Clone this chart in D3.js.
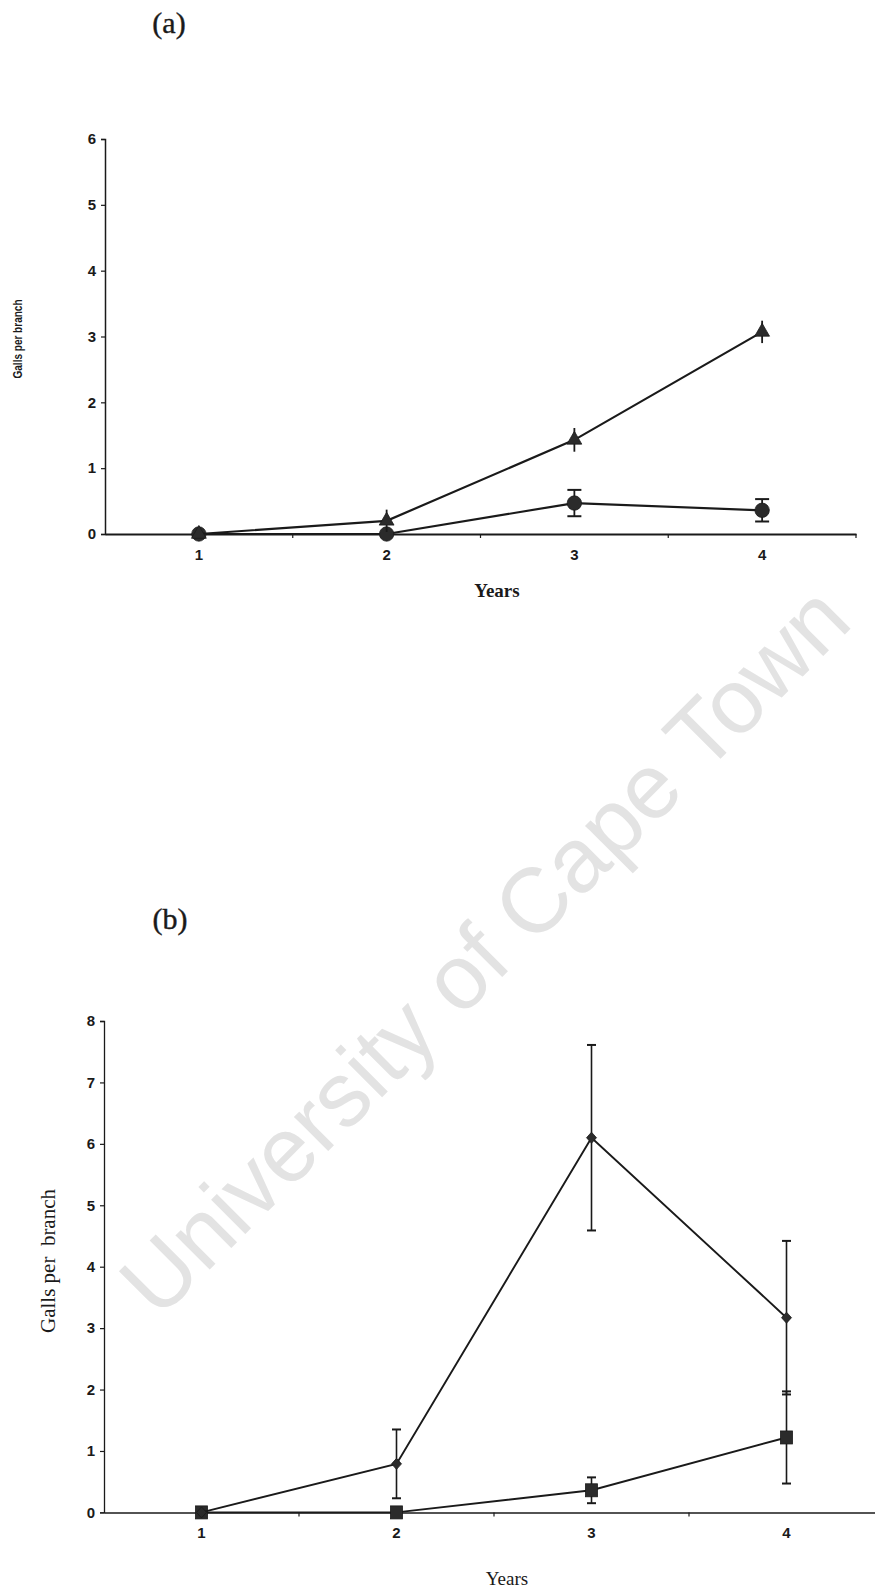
<!DOCTYPE html>
<html>
<head>
<meta charset="utf-8">
<script src="https://cdn.jsdelivr.net/npm/d3@7"></script>
<style>
  body { margin: 0; background: #fff; }
  svg { display: block; }
</style>
</head>
<body>
<svg id="fig" width="875" height="1592"></svg>
<script>
// Survey years (x categories)
const years = [1, 2, 3, 4];

// Panel (a): galls per branch, mean and error
const aTriangle    = [0, 0.20, 1.43, 3.07];
const aTriangleErr = [0, 0.17, 0.18, 0.17];
const aCircle      = [0, 0, 0.47, 0.36];
const aCircleErr   = [0, 0, 0.20, 0.17];
const aYTicks      = [0, 1, 2, 3, 4, 5, 6];

// Panel (b): galls per branch, mean and error
const bDiamond     = [0, 0.79, 6.10, 3.17];
const bDiamondErr  = [0, 0.56, 1.51, 1.25];
const bSquare      = [0, 0, 0.36, 1.22];
const bSquareErr   = [0, 0, 0.21, 0.75];
const bYTicks      = [0, 1, 2, 3, 4, 5, 6, 7, 8];

const svg = d3.select("#fig");
const INK = "#1a1a1a";
const MARK = "#2b2b2b";
const SANS = "'Liberation Sans', Arial, Helvetica, sans-serif";
const SERIF = "'Liberation Serif', 'Times New Roman', serif";

// Watermark across the sheet, underneath the plots
svg.append("text")
  .attr("transform", "translate(484,950) rotate(-45)")
  .attr("text-anchor", "middle")
  .attr("dominant-baseline", "central")
  .attr("font-family", SANS)
  .attr("font-size", 91.5)
  .attr("fill", "#e3e3e3")
  .text("University of Cape Town");

// Marker shapes
const shapes = {
  triangle: (g) => g.append("path").attr("d", d3.symbol(d3.symbolTriangle, 95)()),
  circle:   (g) => g.append("circle").attr("r", 7.2),
  diamond:  (g) => g.append("path").attr("d", "M0,-5.5L5,0L0,5.5L-5,0Z"),
  square:   (g) => g.append("rect").attr("x", -6).attr("y", -6.5).attr("width", 12).attr("height", 13)
};

function panel(cfg) {
  const g = svg.append("g");
  const x = d3.scaleBand().domain(years).range(cfg.xRange).padding(0);
  const cx = (d) => x(d) + x.bandwidth() / 2;
  const y = d3.scaleLinear().domain(cfg.yDomain).range(cfg.yRange);

  // y axis
  const yAxis = g.append("g")
    .attr("transform", `translate(${cfg.xRange[0]},0)`)
    .call(d3.axisLeft(y).tickValues(cfg.yTicks).tickFormat(d3.format("d")).tickSize(4).tickSizeOuter(4));
  yAxis.select(".domain").attr("stroke", INK).attr("stroke-width", cfg.axisW);
  yAxis.selectAll(".tick line").attr("stroke", INK).attr("stroke-width", 1.2);
  yAxis.selectAll(".tick text")
    .attr("fill", INK).attr("x", -cfg.labelGap)
    .style("font-family", SANS).style("font-size", cfg.tickFont + "px").style("font-weight", "bold");

  // x axis: labels centred on each year, tick marks at the band edges
  const y0 = y(0);
  const xAxis = g.append("g")
    .attr("transform", `translate(0,${y0})`)
    .call(d3.axisBottom(x).tickSize(0).tickSizeOuter(0).tickPadding(cfg.xLabelPad));
  xAxis.select(".domain").attr("stroke", INK).attr("stroke-width", cfg.xAxisW);
  xAxis.selectAll(".tick text")
    .attr("fill", INK)
    .style("font-family", SANS).style("font-size", cfg.tickFont + "px").style("font-weight", "bold");
  const edges = years.map((d) => x(d)).concat([x(years[years.length - 1]) + x.bandwidth()]).slice(1);
  xAxis.selectAll("line.edge").data(edges).join("line")
    .attr("class", "edge")
    .attr("x1", (d) => d).attr("x2", (d) => d)
    .attr("y1", 0).attr("y2", 4)
    .attr("stroke", INK).attr("stroke-width", 1.2);

  // axis titles
  g.append("text")
    .attr("x", cfg.titleX[0]).attr("y", cfg.titleX[1])
    .attr("text-anchor", "middle")
    .attr("font-family", SERIF)
    .attr("font-size", cfg.titleXFont)
    .attr("font-weight", cfg.titleXWeight)
    .attr("fill", INK)
    .text("Years");
  const yt = g.append("text")
    .attr("transform", `translate(${cfg.titleY[0]},${cfg.titleY[1]}) rotate(-90)`)
    .attr("text-anchor", "middle")
    .attr("dominant-baseline", "central")
    .attr("font-family", cfg.titleYFamily)
    .attr("font-size", cfg.titleYFont)
    .attr("font-weight", cfg.titleYWeight)
    .attr("fill", INK)
    .attr("xml:space", "preserve")
    .text(cfg.titleYText);
  if (cfg.titleYLength) {
    yt.attr("textLength", cfg.titleYLength).attr("lengthAdjust", "spacingAndGlyphs");
  }

  // panel letter
  g.append("text")
    .attr("x", cfg.letterPos[0]).attr("y", cfg.letterPos[1])
    .attr("text-anchor", "middle")
    .attr("font-family", SERIF)
    .attr("font-size", 30)
    .attr("fill", INK)
    .attr("stroke", INK).attr("stroke-width", 0.4)
    .text(cfg.letter);

  const line = d3.line().x((d) => cx(d.year)).y((d) => y(d.v));

  cfg.series.forEach((s) => {
    const pts = years.map((yr, i) => ({ year: yr, v: s.values[i], e: s.err[i] }));
    g.append("path")
      .datum(pts)
      .attr("fill", "none")
      .attr("stroke", INK)
      .attr("stroke-width", cfg.lineW)
      .attr("d", line);

    // error bars
    const eb = g.append("g").attr("stroke", INK).attr("stroke-width", cfg.errW);
    pts.filter((p) => p.e > 0).forEach((p) => {
      const px = cx(p.year), top = y(p.v + p.e), bot = y(p.v - p.e);
      eb.append("line").attr("x1", px).attr("x2", px).attr("y1", top).attr("y2", bot);
      if (s.cap > 0) {
        eb.append("line").attr("x1", px - s.cap).attr("x2", px + s.cap).attr("y1", top).attr("y2", top).attr("stroke-width", 2);
        eb.append("line").attr("x1", px - s.cap).attr("x2", px + s.cap).attr("y1", bot).attr("y2", bot).attr("stroke-width", 2);
      }
    });

    // markers
    pts.forEach((p) => {
      const m = g.append("g")
        .attr("transform", `translate(${cx(p.year)},${y(p.v)})`)
        .attr("fill", MARK)
        .attr("stroke", INK)
        .attr("stroke-width", 0.8);
      shapes[s.shape](m);
    });
  });
}

panel({
  xRange: [105, 856],
  yRange: [534, 139],
  yDomain: [0, 6],
  yTicks: aYTicks,
  tickFont: 15,
  labelGap: 9,
  xLabelPad: 15,
  axisW: 1.5,
  xAxisW: 2,
  lineW: 2.2,
  errW: 1.8,
  titleX: [497, 597],
  titleXFont: 19,
  titleXWeight: "bold",
  titleY: [17, 339],
  titleYFamily: SANS,
  titleYFont: 13,
  titleYWeight: "bold",
  titleYText: "Galls per branch",
  titleYLength: 79,
  letter: "(a)",
  letterPos: [169, 33],
  series: [
    { values: aCircle, err: aCircleErr, shape: "circle", cap: 7 },
    { values: aTriangle, err: aTriangleErr, shape: "triangle", cap: 0 }
  ]
});

panel({
  xRange: [104, 884],
  yRange: [1512.4, 1021],
  yDomain: [0, 8],
  yTicks: bYTicks,
  tickFont: 15,
  labelGap: 9,
  xLabelPad: 15,
  axisW: 1.3,
  xAxisW: 1.5,
  lineW: 1.9,
  errW: 1.6,
  titleX: [507, 1585],
  titleXFont: 19,
  titleXWeight: "normal",
  titleY: [48, 1261],
  titleYFamily: SERIF,
  titleYFont: 21,
  titleYWeight: "normal",
  titleYText: "Galls per  branch",
  letter: "(b)",
  letterPos: [170, 929],
  series: [
    { values: bSquare, err: bSquareErr, shape: "square", cap: 4.5 },
    { values: bDiamond, err: bDiamondErr, shape: "diamond", cap: 4.5 }
  ]
});
</script>
</body>
</html>
